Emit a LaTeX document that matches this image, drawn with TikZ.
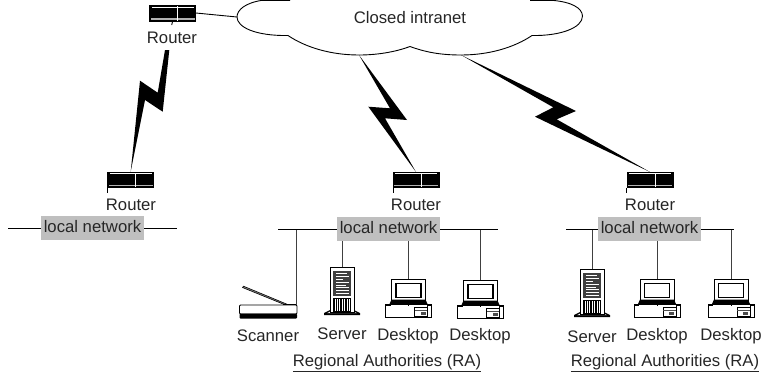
\documentclass[tikz,border=0pt]{standalone}
\usepackage{fontspec}
\setmainfont{Liberation Sans}
\begin{document}
\begin{tikzpicture}[x=1pt,y=-1pt,
  every node/.style={font=\fontsize{16.7}{19}\selectfont,inner sep=0pt,text=black!85},
  lnk/.style={draw=black,line width=0.9pt},
  wire/.style={draw=black!75,line width=0.9pt},
  bolt/.style={fill=black,draw=none},
  netlabel/.style={fill=black!25,minimum width=103pt,minimum height=24pt,text height=12pt,text depth=3.5pt},
  routerbox/.style={fill=black,draw=black,line width=0.5pt,minimum width=46pt,minimum height=15.5pt,
    path picture={
      \fill[white] ([xshift=2pt,yshift=-1.6pt]path picture bounding box.north west) rectangle ([xshift=-2pt,yshift=-2.4pt]path picture bounding box.north east);
      \fill[black!30] ([xshift=1pt,yshift=2.6pt]path picture bounding box.south west) rectangle ([xshift=-1pt,yshift=1.2pt]path picture bounding box.south east);
      \draw[white,line width=0.6pt] ([xshift=5pt]path picture bounding box.north) -- ([xshift=5pt]path picture bounding box.south);
    }},
  desktop/.pic={
    \coordinate (-top) at (0,0);
    \draw[black,line width=1pt,fill=white] (-17,0.5) rectangle (17,24);
    \draw[black,line width=1.5pt] (-12.5,4.5) rectangle (12.5,18.5);
    \fill[black] (-17,20.5) -- (17,20.5) -- (19,25) -- (-19,25) -- cycle;
    \draw[black,line width=0.7pt,fill=white] (-23,25) rectangle (23,38.5);
    \fill[black] (-23,25) rectangle (-18,27);
    \fill[black] (19,25) rectangle (23,27);
    \draw[black,line width=0.7pt] (0,25) -- (0,27);
    \draw[black,line width=0.8pt] (6,28) rectangle (19,37);
    \fill[black!70] (6,30.5) rectangle (19,31.5);
    \fill[black!70] (12,33) rectangle (17,36);
    \draw[black,line width=0.7pt] (19,25) -- (19,38.5);
  },
  server/.pic={
    \coordinate (-top) at (0,0);
    \fill[black] (-18,46) -- (-12,43) -- (12,43) -- (18,46) -- (18,48) -- (-18,48) -- cycle;
    \fill[white] (-15,46.2) -- (-12,44.6) -- (12,44.6) -- (15,46.2) -- cycle;
    \draw[black,line width=0.9pt,fill=white] (-12,0.5) rectangle (12,45.5);
    \fill[black!75] (-9,3.5) rectangle (9,29);
    \foreach \yy/\xa/\xb in {6/-6/5,9/-6/7,12/-6/1,15/-6/7,18/-6/4,20/-6/7,23/-6/7,26/-6/7}
      \draw[white,line width=0.9pt] (\xa,\yy) -- (\xb,\yy);
    \fill[black] (-9,31) rectangle (9,45);
    \foreach \xx in {-7,-4.6,-2.2,0.2,2.6,5,7.4}
      \draw[white,line width=0.7pt] (\xx,32) -- (\xx,44);
  },
  scanner/.pic={
    \coordinate (-top) at (0,0);
    \draw[black,line width=0.6pt,fill=black!45] (-54,-17.5) -- (-53,-18.8) -- (-10,-1) -- (-11,0) -- cycle;
    \fill[black] (-14,-1.5) rectangle (0,0);
    \draw[black,line width=0.9pt,fill=white,rounded corners=1pt] (-57,0) rectangle (0.5,9);
    \fill[black,rounded corners=1pt] (-57,8.5) rectangle (0.5,13.5);
  }
]
\useasboundingbox (0,0) rectangle (765,373);

% cloud
\draw[black,line width=0.9pt,fill=white]
  (290,0.3) -- (262,0.3) .. controls (245,3) and (237,10) .. (237,17)
  .. controls (237,27) and (255,36) .. (288,35.5)
  .. controls (305,47) and (330,55) .. (359,55)
  .. controls (380,55) and (398,51) .. (410,46.5)
  .. controls (425,52) and (440,55) .. (461,55)
  .. controls (490,55) and (515,47) .. (532,35.5)
  .. controls (560,36) and (582.5,28) .. (582.5,16)
  .. controls (582,8) and (572,2) .. (552,0.3) -- (530,0.3);
\coordinate (cloudleft) at (237,17);
\coordinate (cloudA) at (359,55);
\coordinate (cloudB) at (461,55);
\node[anchor=base] (cloudtext) at (410,23) {Closed intranet};

% routers
\node[routerbox] (r1) at (172.7,13) {};
\node[routerbox] (r2) at (130.7,179.5) {};
\node[routerbox] (r3) at (416.3,179.5) {};
\node[routerbox] (r4) at (650,179.5) {};
\draw[lnk] (r1.east) -- (cloudleft);
\draw[lnk] (r1.south) -- ++(-1,4);
\draw[lnk] (r2.south west) -- ++(0,5);
\draw[lnk] (r3.south west) -- ++(0,5);
\draw[lnk] (r4.south west) -- ++(0,5);

% router labels
\node[anchor=base] (r1label) at (172,43) {Router};
\node[anchor=base] (r2label) at (131,210) {Router};
\node[anchor=base] (r3label) at (416,210) {Router};
\node[anchor=base] (r4label) at (650,210) {Router};

% lightning links
\coordinate (bolt1top) at (167.2,50);
\coordinate (bolt1end) at (130.7,171.7);
\fill[bolt] (165,50) -- (169.3,50) -- (162.7,111.7) -- (145,100) -- (bolt1end) -- (140,80.7) -- (157.7,92.7) -- cycle;
\coordinate (bolt2end) at (416,172);
\fill[bolt] (cloudA) -- (407,120) -- (385,118.3) -- (bolt2end) -- (368.3,106.7) -- (390,108.3) -- cycle;
\coordinate (bolt3end) at (650,172);
\fill[bolt] (cloudB) -- (576,111) -- (556.7,119.3) -- (bolt3end) -- (535,116.7) -- (553.3,107.3) -- cycle;

% buses
\coordinate (bus1a) at (8,228);
\coordinate (bus1b) at (177,228);
\coordinate (bus2a) at (278,229.5);
\coordinate (bus2b) at (498,229.5);
\coordinate (bus3a) at (566,229.5);
\coordinate (bus3b) at (734,229.5);
\draw[lnk] (bus1a) -- (bus1b);
\draw[lnk] (bus2a) -- (bus2b);
\draw[lnk] (bus3a) -- (bus3b);
\node[netlabel] (net1) at (92.5,228) {local network};
\node[netlabel] (net2) at (388.5,229) {local network};
\node[netlabel] (net3) at (649.5,229) {local network};

% devices, regional authority 1
\pic (scan) at (296.5,305) {scanner};
\pic (srvA) at (342,267) {server};
\pic (deskA) at (408.5,279) {desktop};
\pic (deskB) at (480.5,280) {desktop};
\draw[wire] (scan-top) -- (scan-top |- bus2a);
\draw[wire] (srvA-top) -- (srvA-top |- net2.south);
\draw[wire] (deskA-top) -- (deskA-top |- net2.south);
\draw[wire] (deskB-top) -- (deskB-top |- bus2a);

% devices, regional authority 2
\pic (srvB) at (592,269) {server};
\pic (deskC) at (657,279) {desktop};
\pic (deskD) at (731,279) {desktop};
\draw[wire] (srvB-top) -- (srvB-top |- bus3a);
\draw[wire] (deskC-top) -- (deskC-top |- net3.south);
\draw[wire] (deskD-top) -- (deskD-top |- bus3a);

% device labels
\node[anchor=base] (lscan) at (268,341) {Scanner};
\node[anchor=base] (lsrvA) at (342,339) {Server};
\node[anchor=base] (ldeskA) at (408,340) {Desktop};
\node[anchor=base] (ldeskB) at (480,340) {Desktop};
\node[anchor=base] (lsrvB) at (592,342) {Server};
\node[anchor=base] (ldeskC) at (657,340) {Desktop};
\node[anchor=base] (ldeskD) at (731,340) {Desktop};
\node[anchor=base] (ra1) at (387,366.5) {\underline{Regional Authorities (RA)}};
\node[anchor=base] (ra2) at (665,366.5) {\underline{Regional Authorities (RA)}};
\end{tikzpicture}
\end{document}
